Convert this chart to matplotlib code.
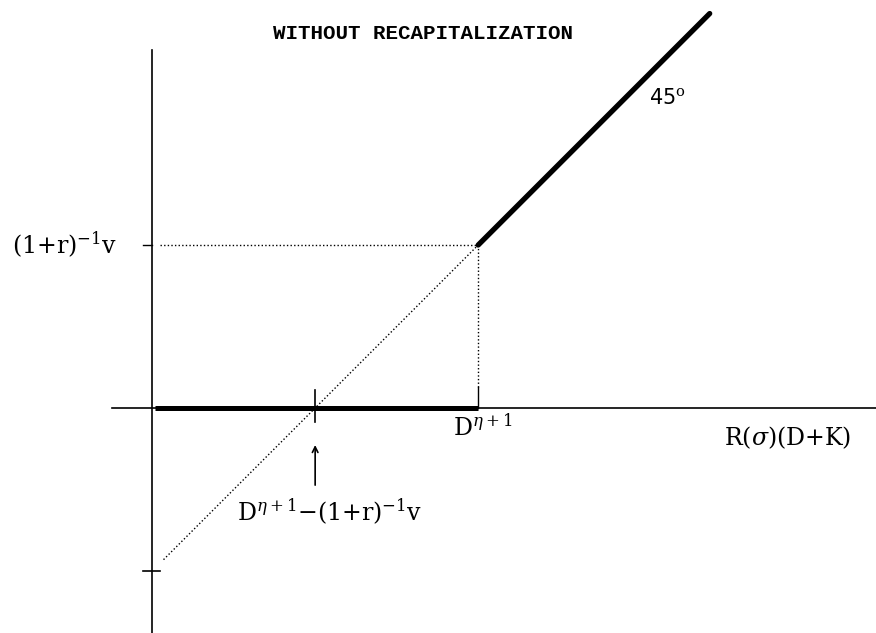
import matplotlib
matplotlib.use("Agg")
import matplotlib.pyplot as plt

# model quantities (diagram units)
dEta = 2.0          # D^{eta+1}
vDisc = 1.0         # (1+r)^{-1} v
lineEnd = 3.42      # where the 45 degree payoff line stops
xLim = [-0.933, 4.44]
yLim = [-1.38, 2.503]
yAxisTop = 2.196
xAxisLeft = -0.245

plt.rcParams["mathtext.fontset"] = "dejavuserif"

fig = plt.figure(figsize=(8.76, 6.33), dpi=100)
ax = fig.add_axes([0, 0, 1, 1])
ax.set_xlim(xLim); ax.set_ylim(yLim)
ax.axis("off")

kink = dEta - vDisc
# axes
ax.plot([0, 0], [yLim[0], yAxisTop], color="black", lw=1.2)
ax.plot([xAxisLeft, xLim[1]], [0, 0], color="black", lw=1.2)

# payoff: zero up to D, then 45 degree line
ax.plot([0.02, dEta], [0, 0], color="black", lw=3.6, solid_capstyle="butt")
ax.plot([dEta, lineEnd], [vDisc, lineEnd - kink], color="black", lw=3.8, solid_capstyle="round")

# dotted guides
dots = dict(color="black", lw=1.0, ls=(0, (1, 1.6)))
ax.plot([0.05, dEta], [vDisc, vDisc], **dots)
ax.plot([dEta, dEta], [0.13, vDisc], **dots)
ax.plot([0.07, dEta], [0.07 - kink, dEta - kink], **dots)

# ticks
ax.plot([dEta, dEta], [0, 0.13], color="black", lw=1.0)
ax.plot([kink, kink], [-0.086, 0.11], color="black", lw=1.2)
ax.plot([-0.055, 0], [vDisc, vDisc], color="black", lw=1.0)
ax.plot([-0.055, 0.05], [-kink, -kink], color="black", lw=1.2)

ax.annotate("", xy=(kink, -0.21), xytext=(kink, -0.49),
            arrowprops=dict(arrowstyle="->", color="black", lw=1.2))

serif = dict(family="DejaVu Serif", fontsize=17, color="black")
ax.text(-0.86, vDisc, r"(1+r)$^{-1}$v", ha="left", va="center", **serif)
ax.text(dEta + 0.03, -0.04, r"D$^{\eta+1}$", ha="center", va="top", **serif)
ax.text(3.9, -0.184, r"R($\sigma$)(D+K)", ha="center", va="center", **serif)
ax.text(kink + 0.09, -0.64, r"D$^{\eta+1}$$-$(1+r)$^{-1}$v", ha="center", va="center", **serif)

ax.text(1.66, 2.30, "WITHOUT RECAPITALIZATION", ha="center", va="center",
        family="Liberation Mono", fontsize=15, fontweight="bold")
ax.text(3.16, 1.90, r"45$^{\mathrm{o}}$", ha="center", va="center",
        family="DejaVu Sans", fontsize=15)

fig.savefig("out.png", dpi=100)
